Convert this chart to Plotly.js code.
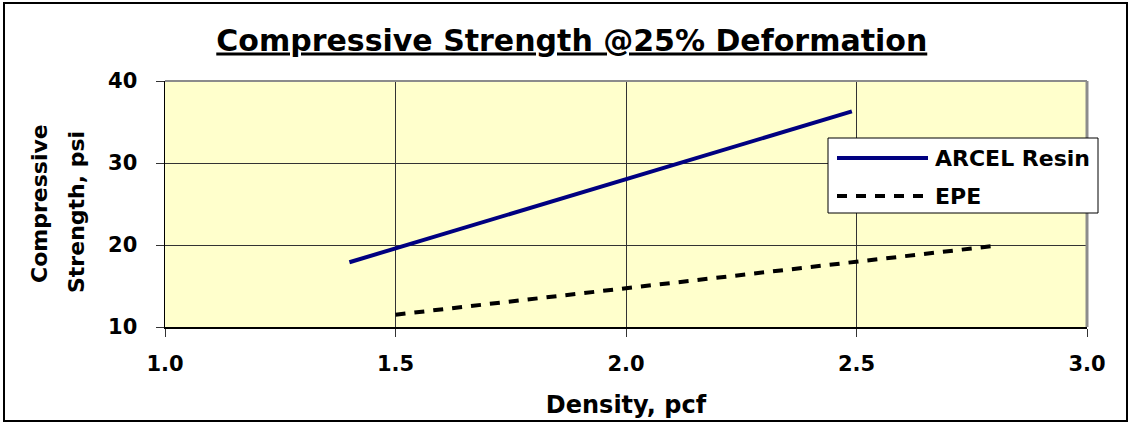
<!DOCTYPE html>
<html>
<head>
<meta charset="utf-8">
<script src="https://cdn.plot.ly/plotly-3.0.1.min.js"></script>
<style>
html,body{margin:0;padding:0;background:#fff;}
#chart{width:1130px;height:424px;}
</style>
</head>
<body>
<div id="chart"></div>
<script>
// ---- data ----
var seriesNames = ["ARCEL Resin", "EPE"];
var arcelDensity = [1.4, 2.49];
var arcelStrength = [17.9, 36.3];
var epeDensity = [1.5, 2.8];
var epeStrength = [11.5, 19.9];
var xTickVals = [1.0, 1.5, 2.0, 2.5, 3.0];
var xTickText = ["1.0", "1.5", "2.0", "2.5", "3.0"];
var yTickVals = [10, 20, 30, 40];
var yTickText = ["10", "20", "30", "40"];
var chartTitle = "Compressive Strength @25% Deformation";
var xTitle = "Density, pcf";
var yTitleLines = ["Compressive", "Strength, psi"];

// ---- layout geometry (pixels) ----
var W = 1130, H = 424;
var L = 165, R = 1087, T = 81, B = 327;
var pw = R - L, ph = B - T;
function px(x) { return (x - L) / pw; }
function py(y) { return (B - y) / ph; }

var FONT = "'DejaVu Sans', Verdana, sans-serif";

var traces = [
  {x: arcelDensity, y: arcelStrength, name: seriesNames[0], type: "scatter", mode: "lines",
   line: {color: "#000080", width: 4}, showlegend: false},
  {x: epeDensity, y: epeStrength, name: seriesNames[1], type: "scatter", mode: "lines",
   line: {color: "#000000", width: 4, dash: "10px,9px"}, showlegend: false}
];

var shapes = [
  // outer chart border
  {type: "rect", xref: "paper", yref: "paper", x0: px(4), x1: px(1127), y0: py(421), y1: py(3),
   line: {color: "#000", width: 2}, fillcolor: "rgba(0,0,0,0)", layer: "below"},
  // plot area top & right borders (gray)
  {type: "line", xref: "paper", yref: "paper", x0: 0, x1: 1, y0: 1, y1: 1,
   line: {color: "#8c8c8c", width: 2}},
  {type: "line", xref: "paper", yref: "paper", x0: 1, x1: 1, y0: 0, y1: 1,
   line: {color: "#8c8c8c", width: 3}},
  // legend box
  {type: "rect", xref: "paper", yref: "paper", x0: px(828), x1: px(1098), y0: py(213), y1: py(138),
   line: {color: "#000", width: 1}, fillcolor: "#ffffff"}
];

var annotations = [
  {text: yTitleLines[0], xref: "paper", yref: "paper", x: px(39), y: py(204), textangle: -90,
   showarrow: false, xanchor: "center", yanchor: "middle", font: {family: FONT, size: 22, color: "#000", weight: "bold"}},
  {text: yTitleLines[1], xref: "paper", yref: "paper", x: px(76), y: py(212), textangle: -90,
   showarrow: false, xanchor: "center", yanchor: "middle", font: {family: FONT, size: 22, color: "#000", weight: "bold"}}
];

// legend entries built from the traces
var rowY = [158, 196];
traces.forEach(function (t, i) {
  shapes.push({type: "line", xref: "paper", yref: "paper", x0: px(837), x1: px(928), y0: py(rowY[i]), y1: py(rowY[i]),
    line: {color: t.line.color, width: t.line.width, dash: t.line.dash || "solid"}});
  annotations.push({text: t.name, xref: "paper", yref: "paper", x: px(933), y: py(rowY[i]),
    xanchor: "left", yanchor: "middle", showarrow: false,
    font: {family: FONT, size: 22, color: "#000", weight: "bold"}});
});

var layout = {
  width: W, height: H,
  margin: {l: L, r: W - R, t: T, b: H - B, pad: 0},
  paper_bgcolor: "#ffffff",
  plot_bgcolor: "#FFFFCC",
  showlegend: false,
  title: {text: "<u>" + chartTitle + "</u>", x: 0.506, xref: "container", xanchor: "center",
          y: 1 - 40 / H, yref: "container", yanchor: "middle",
          font: {family: FONT, size: 30, color: "#000", weight: "bold"}},
  xaxis: {
    range: [1, 3], tickvals: xTickVals, ticktext: xTickText,
    showgrid: true, gridcolor: "#333333", gridwidth: 1,
    showline: true, linecolor: "#000", linewidth: 1.5,
    ticks: "outside", ticklen: 8, tickcolor: "#333", tickwidth: 1,
    ticklabelstandoff: 9,
    tickfont: {family: FONT, size: 21, color: "#000", weight: "bold"},
    zeroline: false,
    title: {text: xTitle, standoff: 21, font: {family: FONT, size: 24, color: "#000", weight: "bold"}}
  },
  yaxis: {
    range: [10, 40], tickvals: yTickVals, ticktext: yTickText,
    showgrid: true, gridcolor: "#333333", gridwidth: 1,
    showline: true, linecolor: "#000", linewidth: 1.5,
    ticks: "outside", ticklen: 8, tickcolor: "#333", tickwidth: 1,
    ticklabelstandoff: 14,
    tickfont: {family: FONT, size: 21, color: "#000", weight: "bold"},
    zeroline: false
  },
  shapes: shapes,
  annotations: annotations
};

Plotly.newPlot("chart", traces, layout, {displayModeBar: false, staticPlot: true});
</script>
</body>
</html>
